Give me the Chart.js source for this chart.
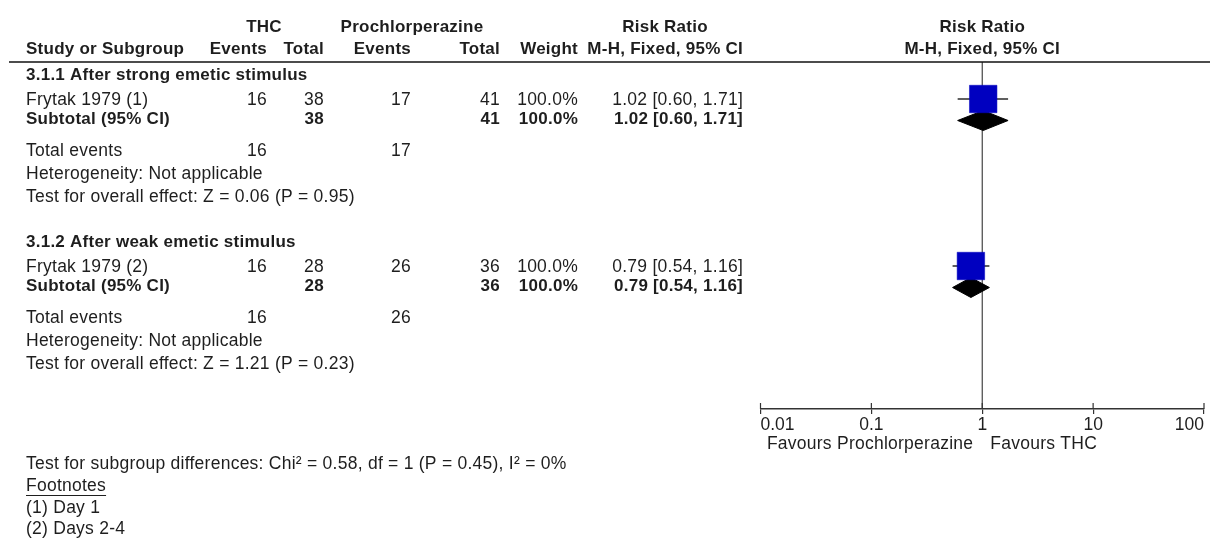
<!DOCTYPE html>
<html>
<head>
<meta charset="utf-8">
<script src="https://cdn.jsdelivr.net/npm/chart.js@4.4.0/dist/chart.umd.min.js"></script>
<style>
  html, body { margin: 0; padding: 0; background: #ffffff; }
  #wrap { width: 1210px; height: 542px; position: relative; }
</style>
</head>
<body>
<div id="wrap"><canvas id="forest" width="1210" height="542"></canvas></div>
<script>
// ---- data ----
const subgroupNames = ['3.1.1 After strong emetic stimulus', '3.1.2 After weak emetic stimulus'];
const studyLabels = ['Frytak 1979 (1)', 'Frytak 1979 (2)'];
const thcEvents = [16, 16];
const thcTotals = [38, 28];
const prochlorEvents = [17, 26];
const prochlorTotals = [41, 36];
const studyWeights = [100.0, 100.0];
const studyRR = [1.02, 0.79];
const studyLower = [0.60, 0.54];
const studyUpper = [1.71, 1.16];
const subtotalRR = [1.02, 0.79];
const subtotalLower = [0.60, 0.54];
const subtotalUpper = [1.71, 1.16];
const overallZ = [0.06, 1.21];
const overallP = [0.95, 0.23];
const subgroupChi2 = [0.58];
const subgroupDf = [1];
const subgroupP = [0.45];
const subgroupI2 = [0];
const axisTicks = [0.01, 0.1, 1, 10, 100];
const axisTickLabels = ['0.01', '0.1', '1', '10', '100'];
const favourLabels = ['Favours Prochlorperazine', 'Favours THC'];
const footnotes = ['(1) Day 1', '(2) Days 2-4'];

// ---- layout and style ----
const FONT_FAMILY = '"Liberation Sans", Arial, sans-serif';
const FONT_SIZE = 17.5;
const BOLD_SIZE = 17;
const TEXT_COLOR = '#1e1e1e';
const RULE_Y = 62;            // rule under the column headings = top of plot area
const AXIS_Y = 409;           // horizontal axis line
const PLOT_LEFT = 760.5;
const PLOT_RIGHT = 1204;
const CANVAS_W = 1210, CANVAS_H = 542;
const GROUP_OFFSET = [0, 167];                 // block offset below the rule
const ROW = { title: 13, study: 37, subtotal: 58.5, events: 89, het: 112, effect: 135 };
const COL = { label: 26, thcEv: 267, thcTot: 324, proEv: 411, proTot: 500, weight: 578, ci: 743 };
const SQUARE_SIDE = 27.5;
const DIAMOND_HALF = 10;

const fmt2 = v => v.toFixed(2);
const ciText = (m, lo, hi) => `${fmt2(m)} [${fmt2(lo)}, ${fmt2(hi)}]`;

// ---- datasets: CI whiskers, weighted squares, subtotal diamonds ----
const datasets = [];
subgroupNames.forEach((_, g) => {
  const yStudy = GROUP_OFFSET[g] + ROW.study;
  const ySub = GROUP_OFFSET[g] + ROW.subtotal;
  datasets.push({
    data: [{ x: studyLower[g], y: yStudy }, { x: studyUpper[g], y: yStudy }],
    showLine: true, borderColor: '#2a2a2a', borderWidth: 1.5,
    pointRadius: 0, fill: false, order: 3
  });
  datasets.push({
    data: [{ x: studyRR[g], y: yStudy }],
    showLine: false, pointStyle: 'rect',
    pointRadius: (SQUARE_SIDE / Math.SQRT2) * Math.sqrt(studyWeights[g] / 100),
    backgroundColor: '#0000c0', borderColor: '#0000c0', borderWidth: 0.5, order: 1
  });
  datasets.push({
    data: [
      { x: subtotalLower[g], y: ySub },
      { x: subtotalRR[g], y: ySub - DIAMOND_HALF },
      { x: subtotalUpper[g], y: ySub },
      { x: subtotalRR[g], y: ySub + DIAMOND_HALF },
      { x: subtotalLower[g], y: ySub }
    ],
    showLine: true, fill: 'shape', tension: 0,
    backgroundColor: '#000000', borderColor: '#000000', borderWidth: 1,
    pointRadius: 0, order: 2
  });
});

// ---- table text, rules and reference line ----
const tablePlugin = {
  id: 'forestTable',
  beforeDatasetsDraw(chart) {
    const { ctx, chartArea } = chart;
    const xs = chart.scales.x;
    const x1 = xs.getPixelForValue(1);
    ctx.save();
    ctx.strokeStyle = '#444444';
    ctx.lineWidth = 1.2;
    ctx.beginPath();
    ctx.moveTo(x1, chartArea.top);
    ctx.lineTo(x1, chartArea.bottom);
    ctx.stroke();
    ctx.restore();
  },
  afterDraw(chart) {
    const { ctx, chartArea } = chart;
    const xs = chart.scales.x;
    const ys = chart.scales.y;
    const plotMid = (chartArea.left + chartArea.right) / 2;

    const text = (s, x, y, align, bold) => {
      ctx.font = bold ? `bold ${BOLD_SIZE}px ${FONT_FAMILY}` : `${FONT_SIZE}px ${FONT_FAMILY}`;
      ctx.letterSpacing = '0.25px';
      ctx.fillStyle = TEXT_COLOR;
      ctx.textAlign = align || 'left';
      ctx.textBaseline = 'middle';
      ctx.fillText(s, x, y);
      return ctx.measureText(s).width;
    };

    ctx.save();
    // heading rows
    text('THC', 264, 27, 'center', true);
    text('Prochlorperazine', 412, 27, 'center', true);
    text('Risk Ratio', 665, 27, 'center', true);
    text('Risk Ratio', plotMid, 27, 'center', true);
    text('Study or Subgroup', COL.label, 49, 'left', true);
    text('Events', COL.thcEv, 49, 'right', true);
    text('Total', COL.thcTot, 49, 'right', true);
    text('Events', COL.proEv, 49, 'right', true);
    text('Total', COL.proTot, 49, 'right', true);
    text('Weight', COL.weight, 49, 'right', true);
    text('M-H, Fixed, 95% CI', COL.ci, 49, 'right', true);
    text('M-H, Fixed, 95% CI', plotMid, 49, 'center', true);

    ctx.strokeStyle = '#111111';
    ctx.lineWidth = 1.6;
    ctx.beginPath();
    ctx.moveTo(9, RULE_Y);
    ctx.lineTo(CANVAS_W, RULE_Y);
    ctx.stroke();

    // subgroup blocks
    subgroupNames.forEach((name, g) => {
      const rowY = r => ys.getPixelForValue(GROUP_OFFSET[g] + r);
      text(name, COL.label, rowY(ROW.title), 'left', true);

      const yS = rowY(ROW.study) + 1;
      text(studyLabels[g], COL.label, yS, 'left', false);
      text(String(thcEvents[g]), COL.thcEv, yS, 'right', false);
      text(String(thcTotals[g]), COL.thcTot, yS, 'right', false);
      text(String(prochlorEvents[g]), COL.proEv, yS, 'right', false);
      text(String(prochlorTotals[g]), COL.proTot, yS, 'right', false);
      text(studyWeights[g].toFixed(1) + '%', COL.weight, yS, 'right', false);
      text(ciText(studyRR[g], studyLower[g], studyUpper[g]), COL.ci, yS, 'right', false);

      const yT = rowY(ROW.subtotal) - 1.5;
      text('Subtotal (95% CI)', COL.label, yT, 'left', true);
      text(String(thcTotals[g]), COL.thcTot, yT, 'right', true);
      text(String(prochlorTotals[g]), COL.proTot, yT, 'right', true);
      text(studyWeights[g].toFixed(1) + '%', COL.weight, yT, 'right', true);
      text(ciText(subtotalRR[g], subtotalLower[g], subtotalUpper[g]), COL.ci, yT, 'right', true);

      const yE = rowY(ROW.events);
      text('Total events', COL.label, yE, 'left', false);
      text(String(thcEvents[g]), COL.thcEv, yE, 'right', false);
      text(String(prochlorEvents[g]), COL.proEv, yE, 'right', false);

      text('Heterogeneity: Not applicable', COL.label, rowY(ROW.het), 'left', false);
      text(`Test for overall effect: Z = ${fmt2(overallZ[g])} (P = ${fmt2(overallP[g])})`,
        COL.label, rowY(ROW.effect), 'left', false);
    });

    // upward half of the axis ticks
    ctx.strokeStyle = '#333333';
    ctx.lineWidth = 1.2;
    xs.ticks.forEach(t => {
      const px = xs.getPixelForValue(t.value);
      ctx.beginPath();
      ctx.moveTo(px, chartArea.bottom - 6);
      ctx.lineTo(px, chartArea.bottom);
      ctx.stroke();
    });

    // favours labels either side of the null line
    const x1 = xs.getPixelForValue(1);
    text(favourLabels[0], x1 - 9, 444, 'right', false);
    text(favourLabels[1], x1 + 8, 444, 'left', false);

    // subgroup difference test and footnotes
    text(`Test for subgroup differences: Chi\u00b2 = ${fmt2(subgroupChi2[0])}, df = ${subgroupDf[0]} (P = ${fmt2(subgroupP[0])}), I\u00b2 = ${subgroupI2[0]}%`,
      COL.label, 464, 'left', false);
    const w = text('Footnotes', COL.label, 486, 'left', false);
    ctx.strokeStyle = TEXT_COLOR;
    ctx.lineWidth = 1;
    ctx.beginPath();
    ctx.moveTo(COL.label, 495.5);
    ctx.lineTo(COL.label + w, 495.5);
    ctx.stroke();
    footnotes.forEach((f, i) => text(f, COL.label, 508 + i * 21, 'left', false));
    ctx.restore();
  }
};

new Chart(document.getElementById('forest'), {
  type: 'line',
  data: { datasets },
  options: {
    responsive: false,
    animation: false,
    events: [],
    layout: {
      autoPadding: false,
      padding: { left: PLOT_LEFT, right: CANVAS_W - PLOT_RIGHT, top: RULE_Y, bottom: 0 }
    },
    plugins: { legend: { display: false }, tooltip: { enabled: false } },
    scales: {
      x: {
        type: 'logarithmic',
        min: axisTicks[0],
        max: axisTicks[axisTicks.length - 1],
        afterBuildTicks: s => { s.ticks = axisTicks.map(v => ({ value: v })); },
        afterFit: s => { s.height = CANVAS_H - AXIS_Y; },
        grid: { display: true, drawOnChartArea: false, drawTicks: true, tickLength: 5, color: '#333333', lineWidth: 1.2 },
        border: { display: true, color: '#333333', width: 1.5 },
        ticks: {
          autoSkip: false, maxRotation: 0, align: 'inner', padding: 1,
          color: TEXT_COLOR,
          font: { family: FONT_FAMILY, size: FONT_SIZE },
          callback: (v, i) => axisTickLabels[i]
        }
      },
      y: {
        type: 'linear', display: false, reverse: true,
        min: 0, max: AXIS_Y - RULE_Y
      }
    }
  },
  plugins: [tablePlugin]
});
</script>
</body>
</html>
